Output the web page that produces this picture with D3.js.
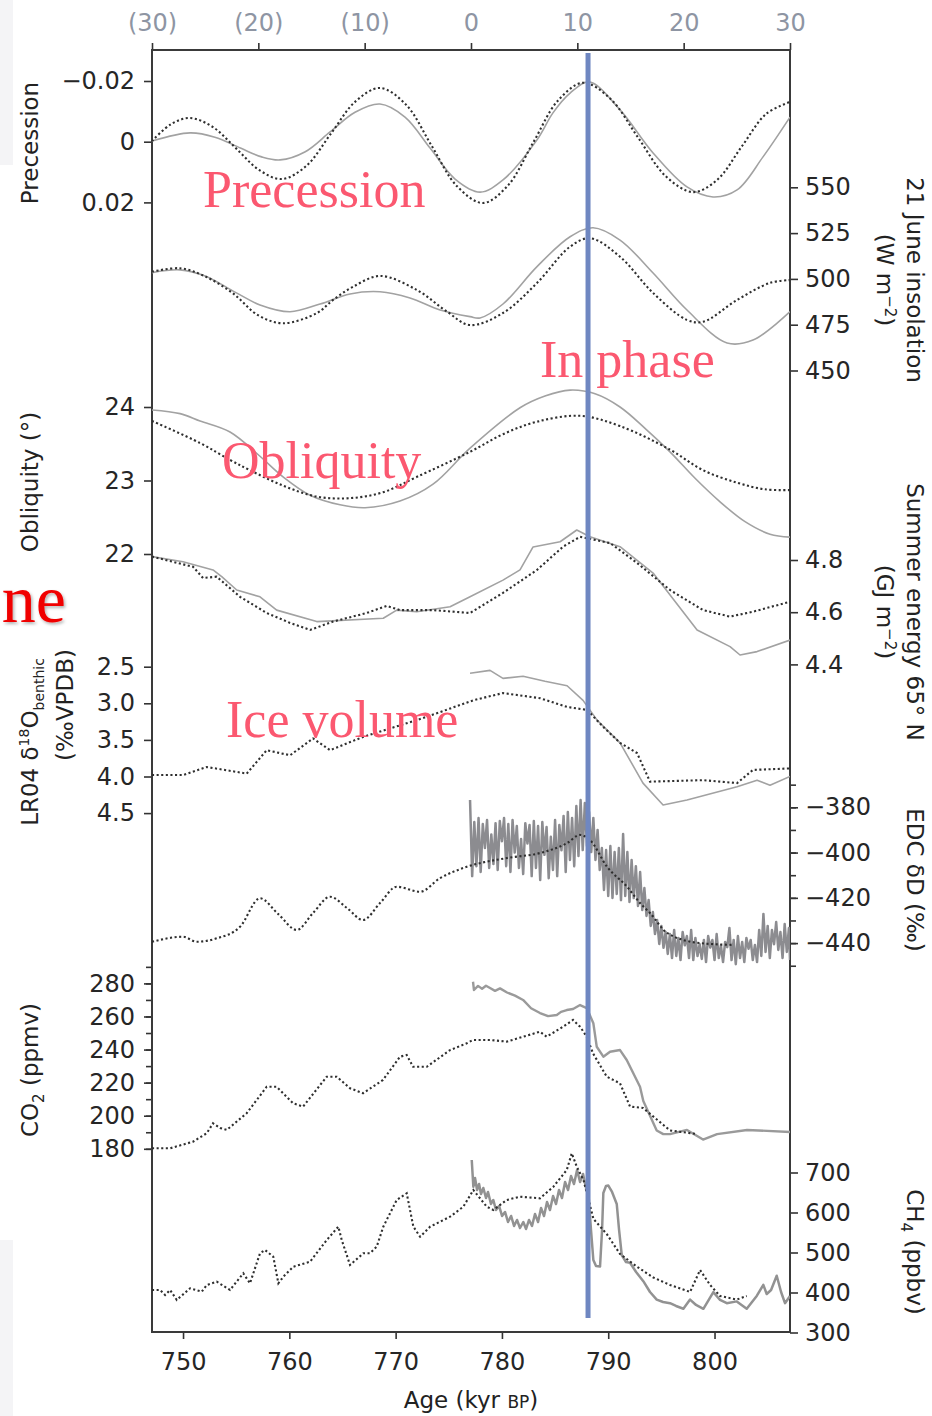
<!DOCTYPE html>
<html>
<head>
<meta charset="utf-8">
<script src="https://cdn.jsdelivr.net/npm/d3@7"></script>
<style>
  html, body { margin: 0; padding: 0; background: #fff; }
  svg { display: block; }
  .tick text { font-family: "DejaVu Sans", sans-serif; font-size: 24px; fill: #262626; }
  .tick line { stroke: #333; stroke-width: 1.6; }
  .title { font-family: "DejaVu Sans", sans-serif; font-size: 23px; fill: #222; }
  .note { font-family: "Liberation Serif", serif; font-size: 52px; fill: #fb5870; }
</style>
</head>
<body>
<svg id="chart" width="932" height="1416"></svg>
<script>
// ---------- axis ticks ----------
const ageTicks = [750, 760, 770, 780, 790, 800];
const offsetTicks = [-30, -20, -10, 0, 10, 20, 30];
const precessionTicks = [-0.02, 0, 0.02];
const insolationTicks = [450, 475, 500, 525, 550];
const obliquityTicks = [22, 23, 24];
const energyTicks = [4.4, 4.6, 4.8];
const lr04Ticks = [2.5, 3.0, 3.5, 4.0, 4.5];
const edcTicks = [-440, -420, -400, -380];
const edcMinorTicks = [-450, -440, -430, -420, -410, -400, -390, -380, -370];
const co2Ticks = [180, 200, 220, 240, 260, 280];
const co2MinorTicks = [180, 190, 200, 210, 220, 230, 240, 250, 260, 270, 280, 290];
const ch4Ticks = [300, 400, 500, 600, 700];

// age (kyr BP) of the in-phase marker
const inPhaseAge = 788.1;

// ---------- series: [age, value] ----------
const precessionSolid = [[747.08,-0.0002],[750.66,-0.0029],[753.0,-0.0015],[755.4,0.0021],[757.4,0.0050],[759.13,0.0060],[761.5,0.0033],[763.83,-0.0032],[766.18,-0.0097],[768.53,-0.0124],[770.88,-0.0081],[773.24,0.0021],[775.59,0.0123],[777.94,0.0166],[780.1,0.0126],[783.3,-0.0006],[784.8,-0.0095],[786.41,-0.0160],[788.2,-0.0197],[791.11,-0.0105],[794.22,0.0037],[797.41,0.0149],[799.86,0.0182],[802.12,0.0159],[804.56,0.0050],[807.1,-0.0081]];
const precessionDotted = [[747.08,-0.0002],[748.87,-0.0058],[750.66,-0.0078],[752.82,-0.0048],[754.99,0.0022],[757.15,0.0093],[759.31,0.0123],[761.62,0.0079],[763.92,-0.0027],[766.23,-0.0133],[768.53,-0.0177],[770.98,-0.0122],[773.38,0.0013],[775.78,0.0147],[778.22,0.0202],[780.57,0.0144],[782.92,0.0004],[785.28,-0.0136],[787.63,-0.0194],[790.22,-0.0141],[792.8,-0.0014],[795.39,0.0113],[797.98,0.0166],[800.24,0.0126],[802.54,0.0017],[804.84,-0.0091],[807.1,-0.0131]];

const insolationSolid = [[747.08,503.4],[749.72,504.9],[752.07,501.6],[754.89,492.8],[757.24,485.8],[760.07,482.1],[762.89,486.3],[765.71,491.8],[768.53,493.0],[771.35,489.6],[774.18,483.0],[777.0,479.4],[777.94,478.7],[780.1,486.3],[783.3,506.7],[786.41,523.0],[788.57,527.9],[791.11,521.2],[794.22,503.2],[797.41,483.0],[801.18,465.0],[803.62,466.6],[807.1,482.1]];
const insolationDotted = [[747.08,503.9],[749.72,505.8],[752.07,501.4],[754.7,492.1],[757.05,480.2],[759.41,475.8],[762.61,481.4],[764.11,488.5],[765.99,495.7],[768.53,501.6],[772.01,493.9],[774.84,482.1],[777.0,474.8],[780.1,481.4],[783.3,497.8],[786.41,517.6],[788.29,522.2],[791.11,512.1],[794.22,492.3],[797.41,477.6],[798.92,476.6],[802.12,488.5],[805.22,497.8],[807.1,499.4]];

const obliquitySolid = [[747.08,23.96],[749.72,23.91],[751.6,23.81],[754.42,23.66],[757.24,23.33],[759.41,23.05],[761.95,22.80],[764.77,22.67],[767.12,22.63],[770.41,22.72],[773.52,22.95],[777.0,23.44],[781.7,23.99],[784.05,24.15],[786.41,24.23],[788.76,24.18],[791.11,24.0],[793.46,23.71],[795.81,23.39],[798.17,23.03],[800.52,22.71],[802.87,22.44],[805.22,22.27],[807.1,22.23]];
const obliquityDotted = [[747.08,23.81],[751.6,23.51],[754.42,23.28],[756.3,23.14],[759.41,22.93],[762.61,22.78],[765.71,22.76],[768.81,22.84],[772.01,23.05],[777.0,23.39],[780.1,23.63],[783.3,23.80],[787.35,23.88],[791.11,23.74],[795.81,23.42],[798.92,23.14],[802.12,22.97],[804.75,22.88],[807.1,22.87]];

const energySolid = [[747.08,4.813],[750.0,4.793],[752.82,4.762],[753.64,4.736],[755.05,4.685],[757.24,4.659],[758.81,4.608],[762.58,4.564],[768.84,4.577],[770.1,4.608],[771.98,4.602],[775.12,4.621],[777.0,4.659],[780.1,4.723],[781.7,4.762],[782.93,4.850],[785.47,4.870],[787.04,4.915],[788.29,4.889],[791.11,4.851],[794.22,4.750],[798.36,4.532],[801.46,4.468],[802.4,4.436],[804.0,4.449],[807.1,4.493]];
const energyDotted = [[747.08,4.813],[750.94,4.774],[751.88,4.731],[753.17,4.736],[755.36,4.659],[757.87,4.597],[760.07,4.559],[761.95,4.532],[764.11,4.564],[767.28,4.597],[769.16,4.624],[770.41,4.608],[773.52,4.608],[777.0,4.597],[780.1,4.674],[783.3,4.762],[785.75,4.851],[787.35,4.889],[790.17,4.865],[792.71,4.789],[795.81,4.685],[798.92,4.608],[801.46,4.583],[803.62,4.602],[807.1,4.640]];

const lr04Dotted = [[747.08,3.98],[750.0,3.98],[752.23,3.87],[755.99,3.96],[757.87,3.64],[760.07,3.71],[762.23,3.48],[763.83,3.64],[766.93,3.46],[771.98,3.23],[774.18,3.12],[777.28,2.96],[780.1,2.86],[783.58,2.93],[786.13,3.05],[788.01,3.09],[789.51,3.32],[791.11,3.54],[792.71,3.68],[793.93,4.07],[798.92,4.05],[802.12,4.09],[803.62,3.91],[807.1,3.89]];
const lr04Solid = [[777.0,2.59],[778.88,2.55],[780.1,2.66],[781.99,2.63],[784.05,2.70],[786.13,2.76],[787.63,2.96],[788.95,3.23],[791.11,3.54],[793.27,4.09],[795.16,4.39],[797.41,4.32],[802.12,4.14],[804.0,4.05],[805.22,4.12],[807.1,4.00]];

const edcDotted = [[747.08,-439.4],[750.0,-437.2],[751.29,-439.4],[753.17,-437.9],[755.36,-432.8],[757.24,-420.2],[758.94,-427.1],[760.7,-434.2],[762.23,-426.7],[763.83,-419.5],[765.43,-424.5],[766.93,-429.8],[768.53,-422.3],[770.1,-415.1],[772.3,-417.3],[774.18,-411.3],[776.69,-406.3],[780.48,-402.4],[783.58,-400.2],[786.13,-395.8],[787.35,-392.2],[788.29,-394.5],[789.89,-406.3],[791.77,-415.1],[792.99,-422.3],[793.93,-426.7],[795.53,-435.5],[798.64,-440.0],[801.74,-440.8]];
const edcSolid = [[777.0,-376.8],[777.2,-410.4],[777.4,-386.5],[777.6,-406.0],[777.8,-384.7],[778.0,-408.6],[778.2,-387.4],[778.4,-398.0],[778.6,-385.6],[778.8,-406.8],[779.0,-392.0],[779.2,-405.1],[779.4,-387.0],[779.6,-407.7],[779.8,-386.1],[780.0,-395.0],[780.2,-384.7],[780.4,-406.0],[780.6,-387.4],[780.8,-408.6],[781.0,-385.6],[781.2,-400.0],[781.4,-388.3],[781.6,-406.8],[781.8,-394.0],[782.0,-409.5],[782.2,-387.0],[782.4,-396.0],[782.6,-387.8],[782.8,-410.4],[783.0,-386.1],[783.2,-406.8],[783.4,-388.3],[783.6,-412.1],[783.8,-386.5],[784.0,-401.0],[784.2,-388.7],[784.4,-411.3],[784.6,-393.0],[784.8,-407.7],[785.0,-385.6],[785.2,-410.4],[785.4,-387.8],[785.6,-399.0],[785.8,-383.8],[786.0,-408.6],[786.2,-382.1],[786.4,-403.3],[786.6,-384.7],[786.8,-406.0],[787.0,-379.4],[787.2,-401.5],[787.4,-376.8],[787.6,-398.9],[787.8,-378.1],[788.0,-397.1],[788.2,-382.1],[788.4,-399.8],[788.6,-384.7],[788.8,-403.3],[789.0,-390.0],[789.2,-407.7],[789.4,-398.0],[789.6,-416.5],[789.8,-398.9],[790.0,-419.2],[790.2,-397.1],[790.4,-420.1],[790.6,-399.8],[790.8,-418.3],[791.0,-398.0],[791.2,-421.0],[791.4,-391.8],[791.6,-419.2],[791.8,-399.8],[792.0,-421.8],[792.2,-403.3],[792.4,-420.1],[792.6,-406.0],[792.8,-423.6],[793.0,-408.6],[793.2,-425.4],[793.4,-415.7],[793.6,-428.0],[793.8,-421.0],[794.0,-432.4],[794.2,-426.3],[794.4,-436.0],[794.6,-429.8],[794.8,-440.4],[795.0,-432.4],[795.2,-442.1],[795.4,-435.1],[795.6,-444.8],[795.8,-436.0],[796.0,-446.6],[796.2,-434.2],[796.4,-445.7],[796.6,-437.7],[796.8,-447.5],[797.0,-435.1],[797.2,-441.0],[797.4,-436.9],[797.6,-446.6],[797.8,-434.2],[798.0,-447.5],[798.2,-437.7],[798.4,-445.7],[798.6,-440.5],[798.8,-447.0],[799.0,-438.6],[799.2,-448.4],[799.4,-436.9],[799.6,-442.0],[799.8,-438.6],[800.0,-447.5],[800.2,-436.0],[800.4,-446.6],[800.6,-441.0],[800.8,-448.4],[801.0,-439.5],[801.2,-441.8],[801.4,-433.3],[801.6,-447.5],[801.8,-438.6],[802.0,-449.3],[802.2,-436.9],[802.4,-446.6],[802.6,-439.5],[802.8,-448.4],[803.0,-437.7],[803.2,-442.5],[803.4,-438.6],[803.6,-447.5],[803.8,-440.8],[804.0,-448.4],[804.2,-434.2],[804.4,-445.7],[804.6,-427.1],[804.8,-443.9],[805.0,-432.4],[805.2,-446.6],[805.4,-434.2],[805.6,-440.5],[805.8,-430.7],[806.0,-443.0],[806.2,-435.1],[806.4,-446.6],[806.6,-431.6],[806.8,-443.9],[807.0,-433.3],[807.1,-447.5]];

const co2Dotted = [[747.08,180.3],[748.78,180.3],[750.94,184.3],[752.23,189.4],[752.82,195.4],[753.48,192.6],[754.11,191.4],[755.99,201.5],[757.87,217.5],[758.81,217.5],[760.35,207.5],[761.29,205.5],[763.52,223.6],[764.46,223.6],[765.71,216.6],[766.93,213.6],[768.81,221.6],[770.41,235.7],[771.04,236.7],[771.64,229.6],[772.93,229.6],[775.12,239.7],[776.69,243.8],[777.28,245.8],[778.88,245.8],[780.45,244.8],[783.58,250.8],[784.21,247.8],[785.75,253.8],[786.69,257.9],[787.35,253.8],[787.98,247.8],[788.57,237.7],[789.86,223.6],[791.11,219.6],[792.05,205.5],[793.27,204.7],[795.81,191.1],[798.36,188.9]];
const co2Solid = [[777.28,281.0],[777.37,276.0],[777.75,278.5],[778.13,276.8],[778.5,278.6],[778.88,277.2],[779.35,275.5],[779.82,277.0],[780.48,274.5],[781.23,272.6],[781.99,270.0],[782.74,265.0],[783.58,262.1],[784.34,260.2],[785.16,260.9],[785.56,262.8],[786.1,263.9],[786.69,264.5],[787.35,266.9],[787.98,265.1],[788.6,255.9],[788.92,241.7],[789.54,235.7],[790.17,238.7],[791.11,239.7],[791.74,233.7],[792.99,217.5],[793.3,208.9],[794.56,191.1],[795.18,188.9],[795.81,188.9],[797.41,191.4],[798.92,185.6],[800.24,188.9],[803.06,191.4],[807.1,190.2]];

const ch4Dotted = [[747.08,406.3],[747.84,406.3],[748.31,393.8],[748.78,406.3],[749.41,381.3],[750.66,410.5],[751.76,402.0],[752.23,418.8],[753.17,427.0],[754.42,406.3],[755.67,448.0],[756.3,423.0],[757.24,498.0],[757.71,506.3],[758.49,489.5],[758.97,423.0],[759.44,439.5],[760.38,464.5],[761.95,477.0],[763.52,531.3],[764.61,564.5],[764.93,531.3],[765.71,468.8],[766.96,498.0],[767.59,498.0],[768.22,514.5],[768.84,564.5],[770.1,631.3],[771.04,648.0],[771.67,564.5],[772.3,539.5],[773.24,564.5],[775.12,589.5],[776.37,614.5],[777.31,656.3],[778.57,614.5],[779.19,606.3],[780.45,631.3],[781.7,639.5],[783.58,635.5],[784.84,664.5],[786.1,706.3],[786.57,748.0],[787.04,714.5],[787.67,681.3],[788.61,583.8],[789.86,546.3],[791.11,496.3],[792.68,465.0],[794.24,437.5],[795.81,418.8],[797.7,401.3],[798.64,456.3],[799.58,418.8],[800.52,391.3],[802.09,382.3],[803.03,391.3]];
const ch4Solid = [[777.16,731.3],[777.31,664.5],[777.47,686.3],[777.66,656.3],[777.85,671.3],[778.03,646.3],[778.25,661.3],[778.5,636.3],[778.69,651.3],[778.97,621.3],[779.19,631.3],[779.44,606.3],[779.73,616.3],[780.01,591.3],[780.29,601.3],[780.57,576.3],[780.86,591.3],[781.14,566.3],[781.42,581.3],[781.7,561.3],[782.01,576.3],[782.27,558.8],[782.55,581.3],[782.83,566.3],[783.11,596.3],[783.4,576.3],[783.68,611.3],[783.96,591.3],[784.24,626.3],[784.52,606.3],[784.81,641.3],[785.09,621.3],[785.37,656.3],[785.65,636.3],[785.94,676.3],[786.22,656.3],[786.5,691.3],[786.78,671.3],[787.07,706.3],[787.35,676.3],[787.63,696.3],[787.91,661.3],[788.13,648.8],[788.38,556.3],[788.6,481.3],[788.85,466.3],[789.23,465.0],[789.42,556.3],[789.54,648.8],[789.79,666.3],[790.01,667.3],[790.36,651.3],[790.8,621.3],[791.02,556.3],[791.27,493.8],[791.67,476.3],[792.05,474.3],[792.62,451.3],[793.3,428.3],[793.93,401.3],[794.56,382.3],[795.16,376.3],[795.81,373.3],[796.38,366.3],[797.07,359.3],[797.7,382.3],[798.26,368.8],[798.95,359.3],[799.89,400.8],[800.52,381.3],[801.15,373.3],[802.09,377.8],[803.03,359.3],[803.97,391.5],[804.59,419.0],[804.91,396.3],[805.32,406.3],[805.85,442.0],[806.26,401.3],[806.63,373.3],[807.1,391.3]];

// ---------- layout ----------
const svg = d3.select("#chart");
const L = 152, R = 790, T = 50, B = 1332;

// faint strips along the left page edge
svg.append("rect").attr("x", 0).attr("y", 0).attr("width", 13).attr("height", 165).attr("fill", "#f4f4f6");
svg.append("rect").attr("x", 0).attr("y", 1240).attr("width", 13).attr("height", 176).attr("fill", "#f4f4f6");

const x = d3.scaleLinear().domain([747.08, 807.1]).range([L, R]);
const xTop = d3.scaleLinear().domain([-30, 30]).range([L, R]);

const yPrec = d3.scaleLinear().domain([-0.02, 0.02]).range([81, 202.4]);
const yIns = d3.scaleLinear().domain([450, 550]).range([370.5, 187.3]);
const yObl = d3.scaleLinear().domain([22, 24]).range([554, 407]);
const yEn = d3.scaleLinear().domain([4.4, 4.8]).range([664.4, 560]);
const yLr = d3.scaleLinear().domain([2.5, 4.5]).range([666.7, 813.1]);
const yEdc = d3.scaleLinear().domain([-440, -380]).range([943.1, 807.3]);
const yCo2 = d3.scaleLinear().domain([180, 280]).range([1148.8, 983.4]);
const yCh4 = d3.scaleLinear().domain([300, 700]).range([1332.5, 1172.5]);

svg.append("clipPath").attr("id", "plotClip")
  .append("rect").attr("x", L).attr("y", T).attr("width", R - L).attr("height", B - T);

// ---------- axes ----------
function addAxis(orient, scale, ticks, fmt, opts = {}) {
  const size = opts.size ?? 8, pad = opts.pad ?? 8;
  const pos = { left: [L, 0], right: [R, 0], top: [0, T], bottom: [0, B] }[orient];
  const maker = { left: d3.axisLeft, right: d3.axisRight, top: d3.axisTop, bottom: d3.axisBottom }[orient];
  const g = svg.append("g").attr("transform", `translate(${pos[0]},${pos[1]})`)
    .call(maker(scale).tickValues(ticks).tickSize(size).tickPadding(pad).tickFormat(fmt || ""));
  g.select(".domain").remove();
  if (opts.color) g.selectAll(".tick text").style("fill", opts.color);
  return g;
}
const fmtPrec = v => v === 0 ? "0" : d3.format(".2f")(v);
const fmt1 = d3.format(".1f");
const fmt0 = d3.format("d");
const fmtTop = v => v < 0 ? `(${-v})` : `${v}`;

addAxis("top", xTop, offsetTicks, fmtTop, { size: 7, pad: 12, color: "#8e95a3" });
addAxis("bottom", x, ageTicks, fmt0, { size: 7, pad: 14 });

addAxis("left", yPrec, precessionTicks, fmtPrec, { pad: 9 });
addAxis("left", yObl, obliquityTicks, fmt0, { pad: 9 });
addAxis("left", yLr, lr04Ticks, fmt1, { pad: 9 });
addAxis("left", yCo2, co2MinorTicks, null, { size: 6 });
addAxis("left", yCo2, co2Ticks, fmt0, { pad: 9 });

addAxis("right", yIns, insolationTicks, fmt0, { pad: 7 });
addAxis("right", yEn, energyTicks, fmt1, { pad: 7 });
addAxis("right", yEdc, edcMinorTicks, null, { size: 6 });
addAxis("right", yEdc, edcTicks, fmt0, { pad: 7 });
addAxis("right", yCh4, ch4Ticks, fmt0, { pad: 7 });

// frame
svg.append("rect").attr("x", L).attr("y", T).attr("width", R - L).attr("height", B - T)
  .attr("fill", "none").attr("stroke", "#3a3a3a").attr("stroke-width", 2);

// ---------- series ----------
const plot = svg.append("g").attr("clip-path", "url(#plotClip)");
const smooth = d3.curveCatmullRom.alpha(0.5);
function draw(data, y, kind, curve, extra = {}) {
  const line = d3.line().x(d => x(d[0])).y(d => y(d[1])).curve(curve || d3.curveLinear);
  const p = plot.append("path").datum(data).attr("d", line).attr("fill", "none");
  if (kind === "dot") {
    p.attr("stroke", "#2f2f2f").attr("stroke-width", 2.1).attr("stroke-dasharray", "2.1 2.5");
  } else {
    p.attr("stroke", extra.color || "#a2a2a2").attr("stroke-width", extra.width || 1.6)
      .attr("stroke-linejoin", "round");
  }
}

draw(precessionSolid, yPrec, "solid", smooth);
draw(precessionDotted, yPrec, "dot", smooth);
draw(insolationSolid, yIns, "solid", smooth);
draw(insolationDotted, yIns, "dot", smooth);
draw(obliquitySolid, yObl, "solid", smooth);
draw(obliquityDotted, yObl, "dot", smooth);
draw(energySolid, yEn, "solid");
draw(energyDotted, yEn, "dot");
draw(lr04Solid, yLr, "solid");
draw(lr04Dotted, yLr, "dot");
draw(edcSolid, yEdc, "solid", null, { color: "#8c8c90", width: 2.5 });
draw(edcDotted, yEdc, "dot", d3.curveMonotoneX);
draw(co2Solid, yCo2, "solid", null, { color: "#9a9a9a", width: 2.4 });
draw(co2Dotted, yCo2, "dot");
draw(ch4Solid, yCh4, "solid", null, { color: "#929292", width: 2.5 });
draw(ch4Dotted, yCh4, "dot");

// in-phase marker
svg.append("line")
  .attr("x1", x(inPhaseAge)).attr("x2", x(inPhaseAge))
  .attr("y1", 53).attr("y2", 1318)
  .attr("stroke", "#6f87c1").attr("stroke-width", 5);

// ---------- axis titles ----------
function vtext(cx, cy, angle, build) {
  const t = svg.append("text").attr("class", "title")
    .attr("text-anchor", "middle")
    .attr("transform", `translate(${cx},${cy}) rotate(${angle})`);
  build(t);
  return t;
}
vtext(38, 143, -90, t => t.text("Precession"));
vtext(38, 482, -90, t => t.text("Obliquity (°)"));
vtext(38, 742, -90, t => {
  t.append("tspan").text("LR04 δ");
  t.append("tspan").attr("dy", -9).attr("font-size", 14).text("18");
  t.append("tspan").attr("dy", 9).text("O");
  t.append("tspan").attr("dy", 6).attr("font-size", 14).text("benthic");
});
vtext(73, 705, -90, t => t.text("(‰VPDB)"));
vtext(38, 1070, -90, t => {
  t.append("tspan").text("CO");
  t.append("tspan").attr("dy", 6).attr("font-size", 15).text("2");
  t.append("tspan").attr("dy", -6).text(" (ppmv)");
});

vtext(907, 280, 90, t => t.text("21 June insolation"));
vtext(877, 280, 90, t => {
  t.append("tspan").text("(W m");
  t.append("tspan").attr("dy", -8).attr("font-size", 15).text("−2");
  t.append("tspan").attr("dy", 8).text(")");
});
vtext(907, 612, 90, t => t.text("Summer energy 65° N"));
vtext(877, 612, 90, t => {
  t.append("tspan").text("(GJ m");
  t.append("tspan").attr("dy", -8).attr("font-size", 15).text("−2");
  t.append("tspan").attr("dy", 8).text(")");
});
vtext(907, 880, 90, t => t.text("EDC δD (‰)"));
vtext(907, 1252, 90, t => {
  t.append("tspan").text("CH");
  t.append("tspan").attr("dy", 6).attr("font-size", 15).text("4");
  t.append("tspan").attr("dy", -6).text(" (ppbv)");
});

const age = svg.append("text").attr("class", "title").attr("text-anchor", "middle")
  .attr("x", 471).attr("y", 1408);
age.append("tspan").text("Age (kyr ");
age.append("tspan").attr("font-size", 17).text("BP");
age.append("tspan").text(")");

// ---------- annotations ----------
const notes = [
  { text: "Precession", x: 203, y: 207 },
  { text: "In phase", x: 540, y: 377 },
  { text: "Obliquity", x: 222, y: 478 },
  { text: "Ice volume", x: 226, y: 737 }
];
svg.selectAll("text.note").data(notes).join("text")
  .attr("class", "note").attr("x", d => d.x).attr("y", d => d.y).text(d => d.text);

const defs = svg.append("defs");
defs.append("filter").attr("id", "soft")
  .append("feDropShadow").attr("dx", 1.5).attr("dy", 2).attr("stdDeviation", 1.5)
  .attr("flood-color", "#000").attr("flood-opacity", 0.3);
svg.append("text").attr("x", 66).attr("y", 622).attr("text-anchor", "end")
  .attr("font-family", "Liberation Serif, serif").attr("font-size", 68)
  .attr("fill", "#f00000").attr("filter", "url(#soft)").text("ne");
</script>
</body>
</html>
